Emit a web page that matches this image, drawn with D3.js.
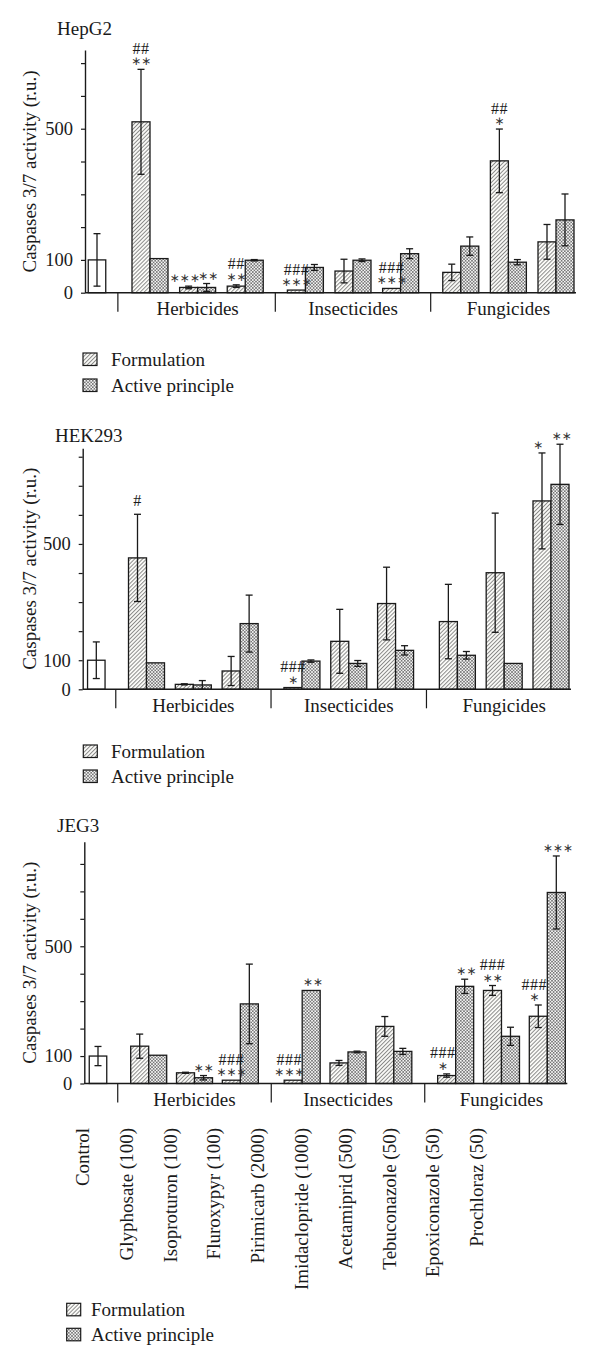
<!DOCTYPE html>
<html><head><meta charset="utf-8">
<script src="https://cdn.jsdelivr.net/npm/d3@7"></script>
<style>
body{margin:0;background:#fff}
svg{display:block}
text{font-family:"Liberation Serif","Times New Roman",serif;fill:#1a1a1a}
</style>
</head><body><svg id="chart" width="600" height="1368"></svg>
<script>
// ---------------- DATA ----------------
const controlLabel = "Control";
const compounds = ["Glyphosate (100)","Isoproturon (100)","Fluroxypyr (100)","Pirimicarb (2000)","Imidaclopride (1000)","Acetamiprid (500)","Tebuconazole (50)","Epoxiconazole (50)","Prochloraz (50)"];
const groups = ["Herbicides","Insecticides","Fungicides"];
const groupOf = [0,0,0,1,1,1,2,2,2];
const seriesNames = ["Formulation","Active principle"];
const yTickValues = [0,100,200,300,400,500,600,700,800];
const yTickLabels = ["0","100","500"];
const panelNames = ["HepG2","HEK293","JEG3"];

// HepG2
const hepg2Control = 100, hepg2ControlErr = 80;
const hepg2Formulation    = [521,16,20,8,66,13,62,402,155];
const hepg2FormulationErr = [160,4,4,0,36,0,25,97,53];
const hepg2Active         = [104,16,99,77,99,119,142,93,222];
const hepg2ActiveErr      = [0,12,2,9,4,15,28,8,79];
const hepg2FormulationMarks = ["##|**","***","##|**","###|***","","###|***","","##|*",""];
const hepg2ActiveMarks      = ["","**","","","","","","",""];

// HEK293
const hek293Control = 100, hek293ControlErr = 63;
const hek293Formulation    = [452,17,63,6,165,295,233,401,648];
const hek293FormulationErr = [150,2,50,0,110,125,128,205,165];
const hek293Active         = [91,15,226,97,89,134,117,89,705];
const hek293ActiveErr      = [0,15,98,4,10,16,13,0,138];
const hek293FormulationMarks = ["#","","","###|*","","","","","*"];
const hek293ActiveMarks      = ["","","","","","","","","**"];

// JEG3
const jeg3Control = 100, jeg3ControlErr = 35;
const jeg3Formulation    = [136,39,12,12,75,208,29,339,245];
const jeg3FormulationErr = [44,2,0,0,9,36,6,18,41];
const jeg3Active         = [103,21,290,339,115,117,354,172,696];
const jeg3ActiveErr      = [0,8,145,0,3,11,26,33,133];
const jeg3FormulationMarks = ["","","###|***","###|***","","","###|*","###|**","###|*"];
const jeg3ActiveMarks      = ["","**","","**","","","**","","***"];

// ---------------- LAYOUT ----------------
const panels = [
  {name:panelNames[0], control:hepg2Control, controlErr:hepg2ControlErr, F:hepg2Formulation, FE:hepg2FormulationErr, A:hepg2Active, AE:hepg2ActiveErr, FM:hepg2FormulationMarks, AM:hepg2ActiveMarks,
   L:{axisX:85, zeroY:292.7, topY:50, yMax:740, tickMax:700, ctrlX:97, first:150, last:556, gapUnits:0.263, titleX:57, titleY:35, legX:83, legY:353, legTextX:111, legStep:26}},
  {name:panelNames[1], control:hek293Control, controlErr:hek293ControlErr, F:hek293Formulation, FE:hek293FormulationErr, A:hek293Active, AE:hek293ActiveErr, FM:hek293FormulationMarks, AM:hek293ActiveMarks,
   L:{axisX:82.7, zeroY:689.3, topY:448.3, yMax:829, tickMax:800, ctrlX:96.3, first:146.5, last:551, gapUnits:0.32, titleX:55, titleY:441.5, legX:83.3, legY:745, legTextX:111, legStep:25}},
  {name:panelNames[2], control:jeg3Control, controlErr:jeg3ControlErr, F:jeg3Formulation, FE:jeg3FormulationErr, A:jeg3Active, AE:jeg3ActiveErr, FM:jeg3FormulationMarks, AM:jeg3ActiveMarks,
   L:{axisX:84.3, zeroY:1083.5, topY:841.7, yMax:881, tickMax:800, ctrlX:98, first:148.7, last:547.3, gapUnits:0.35, titleX:57, titleY:832, legX:66.7, legY:1303.3, legTextX:91, legStep:25}}
];

const svg = d3.select("#chart");
svg.append("rect").attr("width",600).attr("height",1368).attr("fill","#fff");

// patterns
const defs = svg.append("defs");
const ph = defs.append("pattern").attr("id","hatch").attr("patternUnits","userSpaceOnUse")
  .attr("width",2.8).attr("height",2.8).attr("patternTransform","rotate(45)");
ph.append("rect").attr("width",2.8).attr("height",2.8).attr("fill","#fbfbf8");
ph.append("line").attr("x1",0.5).attr("y1",0).attr("x2",0.5).attr("y2",2.8).attr("stroke","#666").attr("stroke-width",0.75);
const pc = defs.append("pattern").attr("id","cross").attr("patternUnits","userSpaceOnUse")
  .attr("width",3.2).attr("height",3.2);
pc.append("rect").attr("width",3.2).attr("height",3.2).attr("fill","#f6f6f6");
pc.append("path").attr("d","M0,0L3.2,3.2M3.2,0L0,3.2").attr("stroke","#5a5a5a").attr("stroke-width",0.65).attr("fill","none");

const fills = ["url(#hatch)","url(#cross)"];
const BW = 18, CW = 17.5, STROKE = "#1a1a1a";

function drawErr(g, cx, y, v, e){
  if (e <= 0) return;
  const y1 = y(v+e), y2 = y(Math.max(v-e,0));
  g.append("line").attr("x1",cx).attr("x2",cx).attr("y1",y1).attr("y2",y2).attr("stroke",STROKE).attr("stroke-width",1.3);
  [y1,y2].forEach(yy=>g.append("line").attr("x1",cx-3.5).attr("x2",cx+3.5).attr("y1",yy).attr("y2",yy).attr("stroke",STROKE).attr("stroke-width",1.3));
}

// one text element per annotation; lines stacked upward from the anchor
function drawMarks(g, cx, anchor, mark){
  if (!mark) return;
  const lines = mark.split("|");
  const n = lines.length;
  const t = g.append("text").attr("text-anchor","middle");
  lines.forEach((ln,i)=>{
    const fromBottom = n-1-i;
    const isStar = ln.includes("*");
    let yy;
    if (fromBottom===0) yy = isStar ? anchor-4 : anchor-8;
    else yy = anchor-15.5;
    const ts = t.append("tspan").attr("x",cx).attr("y",yy);
    if (isStar){
      ts.style("font-family","'DejaVu Sans',sans-serif").style("font-size","12px").attr("fill","#333")
        .text(ln.replace(/\*/g,"\u2217"));
    } else {
      ts.style("font-size","16px").style("letter-spacing","0.5px").text(ln);
    }
  });
}

panels.forEach(p=>{
  const L = p.L;
  const g = svg.append("g");
  const y = d3.scaleLinear().domain([0,L.yMax]).range([L.zeroY,L.topY]);
  const uMax = 8 + 2*L.gapUnits;
  const xs = d3.scaleLinear().domain([0,uMax]).range([L.first,L.last]);
  const pairX = compounds.map((c,i)=>xs(i + groupOf[i]*L.gapUnits));

  // title
  g.append("text").attr("x",L.titleX).attr("y",L.titleY).style("font-size","19px").text(p.name);

  // y label
  g.append("text").attr("transform",`translate(36,${(L.zeroY+L.topY)/2}) rotate(-90)`)
    .attr("text-anchor","middle").style("font-size","19px").text("Caspases 3/7 activity (r.u.)");

  // control bar
  g.append("rect").attr("x",L.ctrlX-CW/2).attr("y",y(p.control)).attr("width",CW).attr("height",L.zeroY-y(p.control))
    .attr("fill","#fff").attr("stroke",STROKE).attr("stroke-width",1.3);
  drawErr(g, L.ctrlX, y, p.control, p.controlErr);

  // bars
  const series = [[p.F,p.FE,p.FM],[p.A,p.AE,p.AM]];
  series.forEach((s,si)=>{
    s[0].forEach((v,i)=>{
      const x0 = pairX[i] - BW + si*BW;
      g.append("rect").attr("x",x0).attr("y",y(v)).attr("width",BW).attr("height",L.zeroY-y(v))
        .attr("fill",fills[si]).attr("stroke",STROKE).attr("stroke-width",1.3);
    });
  });
  series.forEach((s,si)=>{
    s[0].forEach((v,i)=>{
      const cx = pairX[i] - BW/2 + si*BW;
      drawErr(g, cx, y, v, s[1][i]);
      // nudge apart when both bars of a pair carry marks
      const both = p.FM[i] && p.AM[i];
      const shift = both ? (si===0 ? -4 : 1.5) : 0;
      drawMarks(g, cx+shift, y(v + s[1][i]), s[2][i]);
    });
  });

  // y axis
  const ax = g.append("g").attr("transform",`translate(${L.axisX},0)`)
    .call(d3.axisLeft(y).tickValues(yTickValues.filter(d=>d<=L.tickMax)).tickSize(4).tickSizeOuter(0).tickPadding(8)
      .tickFormat(d=>yTickLabels.includes(String(d))?String(d):""));
  ax.select(".domain").attr("stroke",STROKE).attr("stroke-width",1.4);
  ax.selectAll(".tick line").attr("stroke",STROKE).attr("stroke-width",1.2);
  ax.selectAll(".tick text").style("font-family","'Liberation Serif',serif").style("font-size","18.5px").attr("fill","#1a1a1a");

  // baseline
  const axisEnd = L.last + BW + 2;
  g.append("line").attr("x1",L.axisX).attr("x2",axisEnd).attr("y1",L.zeroY).attr("y2",L.zeroY).attr("stroke",STROKE).attr("stroke-width",1.4);

  // group separators
  const seps = [
    (L.ctrlX + CW/2 + pairX[0]-BW)/2 - 1,
    (pairX[2]+BW + pairX[3]-BW)/2,
    (pairX[5]+BW + pairX[6]-BW)/2
  ];
  seps.forEach(sx=>g.append("line").attr("x1",sx).attr("x2",sx).attr("y1",L.zeroY).attr("y2",L.zeroY+19).attr("stroke",STROKE).attr("stroke-width",1.2));

  // group labels
  groups.forEach((gn,gi)=>{
    g.append("text").attr("x",pairX[gi*3+1]).attr("y",L.zeroY+22.5).attr("text-anchor","middle").style("font-size","19px").text(gn);
  });

  // legend
  seriesNames.forEach((sn,si)=>{
    const by = L.legY + si*L.legStep;
    g.append("rect").attr("x",L.legX).attr("y",by).attr("width",14).attr("height",12.5)
      .attr("fill",fills[si]).attr("stroke",STROKE).attr("stroke-width",1.2);
    g.append("text").attr("x",L.legTextX).attr("y",by+13).style("font-size","19px").text(sn);
  });
});

// rotated category labels (bottom)
const xl = d3.scalePoint().domain([controlLabel, ...compounds]).range([89,483.2]);
svg.append("g").selectAll("text").data([controlLabel, ...compounds]).join("text")
  .attr("transform",d=>`translate(${xl(d)},1128) rotate(-90)`)
  .attr("text-anchor","end").style("font-size","19px").text(d=>d);
</script>
</body></html>
